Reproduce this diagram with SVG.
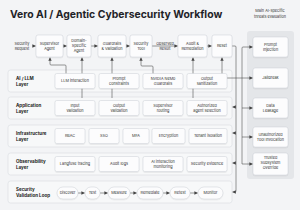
<svg xmlns="http://www.w3.org/2000/svg" width="300" height="210" viewBox="0 0 300 210">
<defs>
<marker id="ah" markerWidth="4" markerHeight="4" refX="3.2" refY="2" orient="auto" markerUnits="userSpaceOnUse">
<path d="M0,0.3 L3.4,2 L0,3.7 Z" fill="#444"/>
</marker>
<filter id="sh" x="-20%" y="-20%" width="140%" height="150%">
<feDropShadow dx="0" dy="0.5" stdDeviation="0.7" flood-color="#000" flood-opacity="0.14"/>
</filter>
</defs>
<style>
.t{font-family:Inter,"Liberation Sans",sans-serif;fill:#333;font-size:3.8px;text-anchor:middle}
.lb{font-family:Inter,"Liberation Sans",sans-serif;fill:#222;font-size:4.5px;font-weight:700}
.title{font-family:Inter,"Liberation Sans",sans-serif;fill:#1f2328;font-size:10.4px;font-weight:700}
.box{fill:#fcfcfd;stroke:#cfd3d8;stroke-width:0.5;filter:url(#sh)}
.layer{fill:#f7f8f9;stroke:#d3d6db;stroke-width:0.5}
.pill{fill:#fcfcfd;stroke:#cfd3d8;stroke-width:0.5;filter:url(#sh)}
.c{fill:none;stroke:#444;stroke-width:0.55}
.a{fill:none;stroke:#444;stroke-width:0.55;marker-end:url(#ah)}
</style>
<rect width="300" height="210" fill="#f3f4f6"/>
<text class="title" x="10" y="18">Vero AI / Agentic Cybersecurity Workflow</text>
<text class="t" x="270" y="12">Main AI-specific</text>
<text class="t" x="270" y="18">threats evaluation</text>
<rect id="panel" x="247" y="31" width="47" height="148" rx="3" fill="#e4e6e9"/>

<g id="layers">
<rect class="layer" x="8" y="70" width="224" height="22" rx="2.5"/>
<text class="lb" x="16" y="79.5">AI / LLM</text><text class="lb" x="16" y="85.5">Layer</text>
<rect class="layer" x="8" y="97" width="224" height="22" rx="2.5"/>
<text class="lb" x="16" y="106.5">Application</text><text class="lb" x="16" y="112.5">Layer</text>
<rect class="layer" x="8" y="125" width="224" height="22" rx="2.5"/>
<text class="lb" x="16" y="134.5">Infrastructure</text><text class="lb" x="16" y="140.5">Layer</text>
<rect class="layer" x="8" y="153" width="224" height="22" rx="2.5"/>
<text class="lb" x="16" y="162.5">Observability</text><text class="lb" x="16" y="168.5">Layer</text>
<rect class="layer" x="8" y="181" width="224" height="22" rx="2.5"/>
<text class="lb" x="16" y="190.5">Security</text><text class="lb" x="16" y="196.5">Validation Loop</text>
</g>

<g id="connectors">
<path class="a" d="M32.5,46 H35.6"/>
<path class="a" d="M63,46 H66.6"/>
<path class="a" d="M91,46 H97.6"/>
<path class="a" d="M126,46 H129.6"/>
<path class="a" d="M152,46 H177.6"/>
<path class="a" d="M207,46 H211.6"/>
<path class="a" d="M66,74 V66 Q66,65 65,65 H51 Q50,65 50,64 V57.6"/>
<path class="a" d="M82,98 V57.6"/>
<path class="a" d="M112,98 V57.6"/>
<path class="a" d="M153,74 V67 Q153,66 152,66 H142 Q141,66 141,65 V57.6"/>
<path class="a" d="M193,98 V57.6"/>
<path class="a" d="M222,74 V57.6"/>
<path class="c" d="M232,46 H235 Q236,46 236,47 V191 Q236,192 235,192"/>
<path class="a" d="M235.5,192 H232.6"/>
<path class="a" d="M236,107 H232.6"/>
<path class="a" d="M236,133 H232.6"/>
<path class="a" d="M236,163 H232.6"/>
<path class="a" d="M242,164 V48 Q242,47 243,47 H252.6"/>
<path class="a" d="M227,78 H252.6"/>
<path class="a" d="M242,108 H252.6"/>
<path class="a" d="M242,137 H252.6"/>
<path class="a" d="M242,164 H252.6"/>
<path class="a" d="M78,193 H84.6"/>
<path class="a" d="M100,193 H107.6"/>
<path class="a" d="M130,193 H136.6"/>
<path class="a" d="M163,193 H169.6"/>
<path class="a" d="M190,193 H197.6"/>
</g>

<g id="n-request"><text class="t" x="22" y="44.5">Security</text><text class="t" x="22" y="49.5">Request</text></g>
<g id="n-supervisor"><rect class="box" x="36" y="35" width="27" height="22" rx="2"/><text class="t" x="49.5" y="44.5">Supervisor</text><text class="t" x="49.5" y="49.5">Agent</text></g>
<g id="n-domain"><rect class="box" x="67" y="35" width="24" height="22" rx="2"/><text class="t" x="79" y="42">Domain-</text><text class="t" x="79" y="47">Specific</text><text class="t" x="79" y="52">Agent</text></g>
<g id="n-guardrails"><rect class="box" x="98" y="35" width="28" height="22" rx="2"/><text class="t" x="112" y="44.5">Guardrails</text><text class="t" x="112" y="49.5">&amp; Validation</text></g>
<g id="n-tool"><rect class="box" x="130" y="35" width="22" height="22" rx="2"/><text class="t" x="141" y="44.5">Security</text><text class="t" x="141" y="49.5">Tool</text></g>
<g id="l-observed"><text class="t" x="165" y="44.5">Observed</text><text class="t" x="165" y="50.2">Result</text></g>
<g id="n-audit"><rect class="box" x="178" y="35" width="29" height="22" rx="2"/><text class="t" x="192.5" y="44.5">Audit &amp;</text><text class="t" x="192.5" y="49.5">Remediation</text></g>
<g id="n-reset"><rect class="box" x="212" y="35" width="20" height="22" rx="2"/><text class="t" x="222" y="47.3">Reset</text></g>

<g id="n-llm"><rect class="box" x="55" y="73.5" width="40" height="15" rx="1.8"/><text class="t" x="75" y="82.3">LLM interaction</text></g>
<g id="n-prompt"><rect class="box" x="99" y="73.5" width="40" height="15" rx="1.8"/><text class="t" x="119" y="79.8">Prompt</text><text class="t" x="119" y="84.8">constraints</text></g>
<g id="n-nemo"><rect class="box" x="143" y="73.5" width="40" height="15" rx="1.8"/><text class="t" x="163" y="79.8">NVIDIA NeMo</text><text class="t" x="163" y="84.8">Guardrails</text></g>
<g id="n-outsan"><rect class="box" x="187" y="73.5" width="40" height="15" rx="1.8"/><text class="t" x="207" y="79.8">Output</text><text class="t" x="207" y="84.8">sanitization</text></g>

<g id="n-input"><rect class="box" x="55" y="100.5" width="40" height="15" rx="1.8"/><text class="t" x="75" y="106.8">Input</text><text class="t" x="75" y="111.8">validation</text></g>
<g id="n-outval"><rect class="box" x="99" y="100.5" width="40" height="15" rx="1.8"/><text class="t" x="119" y="106.8">Output</text><text class="t" x="119" y="111.8">validation</text></g>
<g id="n-routing"><rect class="box" x="143" y="100.5" width="40" height="15" rx="1.8"/><text class="t" x="163" y="106.8">Supervisor</text><text class="t" x="163" y="111.8">routing</text></g>
<g id="n-authsel"><rect class="box" x="187" y="100.5" width="40" height="15" rx="1.8"/><text class="t" x="207" y="106.8">Authorized</text><text class="t" x="207" y="111.8">agent selection</text></g>

<g id="n-rbac"><rect class="box" x="55" y="128.5" width="30" height="15" rx="1.8"/><text class="t" x="70" y="137.3">RBAC</text></g>
<g id="n-sso"><rect class="box" x="89" y="128.5" width="30" height="15" rx="1.8"/><text class="t" x="104" y="137.3">SSO</text></g>
<g id="n-mfa"><rect class="box" x="123" y="128.5" width="26" height="15" rx="1.8"/><text class="t" x="136" y="137.3">MFA</text></g>
<g id="n-enc"><rect class="box" x="152" y="128.5" width="33" height="15" rx="1.8"/><text class="t" x="168.5" y="137.3">Encryption</text></g>
<g id="n-tenant"><rect class="box" x="189" y="128.5" width="38" height="15" rx="1.8"/><text class="t" x="208" y="137.3">Tenant isolation</text></g>

<g id="n-langfuse"><rect class="box" x="55" y="156.5" width="40" height="15" rx="1.8"/><text class="t" x="75" y="165.3">Langfuse tracing</text></g>
<g id="n-auditlogs"><rect class="box" x="99" y="156.5" width="40" height="15" rx="1.8"/><text class="t" x="119" y="165.3">Audit logs</text></g>
<g id="n-aimon"><rect class="box" x="143" y="156.5" width="40" height="15" rx="1.8"/><text class="t" x="163" y="162.8">AI interaction</text><text class="t" x="163" y="167.8">monitoring</text></g>
<g id="n-evidence"><rect class="box" x="187" y="156.5" width="40" height="15" rx="1.8"/><text class="t" x="207" y="165.3">Security evidence</text></g>

<g id="n-discover"><rect class="pill" x="57" y="187" width="21" height="12" rx="6"/><text class="t" x="67.5" y="194.3">Discover</text></g>
<g id="n-test"><rect class="pill" x="85" y="187" width="15" height="12" rx="6"/><text class="t" x="92.5" y="194.3">Test</text></g>
<g id="n-measure"><rect class="pill" x="108" y="187" width="22" height="12" rx="6"/><text class="t" x="119" y="194.3">Measure</text></g>
<g id="n-remediate"><rect class="pill" x="137" y="187" width="26" height="12" rx="6"/><text class="t" x="150" y="194.3">Remediate</text></g>
<g id="n-retest"><rect class="pill" x="170" y="187" width="20" height="12" rx="6"/><text class="t" x="180" y="194.3">Retest</text></g>
<g id="n-monitor"><rect class="pill" x="198" y="187" width="25" height="12" rx="6"/><text class="t" x="210.5" y="194.3">Monitor</text></g>

<g id="n-prompt-inj"><rect class="box" x="253" y="37" width="35" height="20" rx="2"/><text class="t" x="270.5" y="45.8">Prompt</text><text class="t" x="270.5" y="50.8">Injection</text></g>
<g id="n-jailbreak"><rect class="box" x="253" y="68" width="35" height="20" rx="2"/><text class="t" x="270.5" y="79.3">Jailbreak</text></g>
<g id="n-leakage"><rect class="box" x="253" y="98" width="35" height="20" rx="2"/><text class="t" x="270.5" y="106.8">Data</text><text class="t" x="270.5" y="111.8">Leakage</text></g>
<g id="n-unauth"><rect class="box" x="253" y="127" width="35" height="20" rx="2"/><text class="t" x="270.5" y="135.8">Unauthorized</text><text class="t" x="270.5" y="140.8">Tool Invocation</text></g>
<g id="n-trusted"><rect class="box" x="253" y="153" width="35" height="22" rx="2"/><text class="t" x="270.5" y="159.3">Trusted</text><text class="t" x="270.5" y="164.3">Subsystem</text><text class="t" x="270.5" y="169.3">Override</text></g>
</svg>
